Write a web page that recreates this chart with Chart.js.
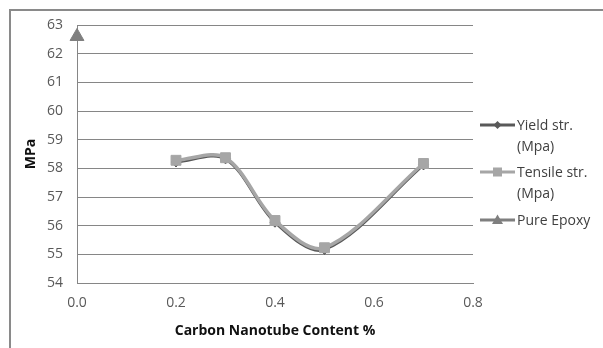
<!DOCTYPE html>
<html>
<head>
<meta charset="utf-8">
<script src="https://cdn.jsdelivr.net/npm/chart.js@4.4.1/dist/chart.umd.min.js"></script>
<style>
  html, body { margin: 0; padding: 0; background: #ffffff; overflow: hidden; }
  #wrap { position: relative; width: 603px; height: 348px; }
  #frame { position: absolute; left: 9px; top: 9px; width: 640px; height: 400px;
           border-left: 2px solid #8a8a8a; border-top: 2px solid #8a8a8a; box-sizing: border-box; }
  canvas { position: absolute; left: 0; top: 0; }
  #legend { position: absolute; left: 480px; top: 114px; font-family: "Open Sans", sans-serif;
            font-size: 14px; color: #404040; }
  .item { position: absolute; left: 0; white-space: nowrap; line-height: 21px; }
  .item svg { position: absolute; left: 0; top: 4px; }
  .item .txt { position: absolute; left: 37px; top: 0; }
</style>
</head>
<body>
<div id="wrap">
  <div id="frame"></div>
  <canvas id="c" width="603" height="348"></canvas>
  <div id="legend"></div>
</div>
<script>
// ---- data ----
const cntContent   = [0.2, 0.3, 0.4, 0.5, 0.7];
const yieldStr     = [58.22, 58.33, 56.12, 55.17, 58.12];
const tensileStr   = [58.28, 58.37, 56.18, 55.23, 58.17];
const pureEpoxyX   = [0.0];
const pureEpoxyY   = [62.6];
const seriesNames  = ['Yield str. (Mpa)', 'Tensile str. (Mpa)', 'Pure Epoxy'];
const legendLines  = [['Yield str.', '(Mpa)'], ['Tensile str.', '(Mpa)'], ['Pure Epoxy']];
const xTickLabels  = ['0.0', '0.2', '0.4', '0.6', '0.8'];
const yTickLabels  = ['54', '55', '56', '57', '58', '59', '60', '61', '62', '63'];
const xTitle = 'Carbon Nanotube Content %';
const yTitle = 'MPa';

const colors = ['#595959', '#a6a6a6', '#7f7f7f'];

const pts = (xs, ys) => xs.map((x, i) => ({ x: x, y: ys[i] }));

const chart = new Chart(document.getElementById('c'), {
  type: 'scatter',
  data: {
    datasets: [
      { label: seriesNames[0], data: pts(cntContent, yieldStr), showLine: true, tension: 0.33,
        borderColor: colors[0], backgroundColor: colors[0], borderWidth: 3,
        pointStyle: 'rectRot', pointRadius: 5, pointBorderWidth: 1, order: 2 },
      { label: seriesNames[1], data: pts(cntContent, tensileStr), showLine: true, tension: 0.33,
        borderColor: colors[1], backgroundColor: colors[1], borderWidth: 3.5,
        pointStyle: 'rect', pointRadius: 7, pointBorderWidth: 1, order: 1 },
      { label: seriesNames[2], data: pts(pureEpoxyX, pureEpoxyY), showLine: false,
        borderColor: colors[2], backgroundColor: colors[2],
        pointStyle: 'triangle', pointRadius: 8, pointBorderWidth: 1, order: 0 }
    ]
  },
  options: {
    responsive: false,
    animation: false,
    clip: false,
    layout: { padding: { left: 0, top: 25, right: 130, bottom: 0 } },
    plugins: { legend: { display: false }, tooltip: { enabled: false } },
    scales: {
      x: {
        type: 'linear', min: 0, max: 0.8,
        afterFit: s => { s.height = 65; },
        afterBuildTicks: s => { s.ticks = xTickLabels.map(t => ({ value: parseFloat(t) })); },
        ticks: { callback: (v, i) => xTickLabels[i], padding: 12, color: '#595959',
                 font: { family: 'Open Sans', size: 14 }, maxRotation: 0 },
        grid: { display: false, drawTicks: false },
        border: { display: true, color: '#868686', width: 1 },
        title: { display: true, text: xTitle, color: '#111111',
                 font: { family: 'Open Sans', size: 14, weight: 'bold' }, padding: { top: 0, bottom: 9 } }
      },
      y: {
        type: 'linear', min: 54, max: 63,
        afterFit: s => { s.width = 77; },
        afterBuildTicks: s => { s.ticks = yTickLabels.map(t => ({ value: parseFloat(t) })); },
        ticks: { callback: (v, i) => yTickLabels[i], padding: 14, color: '#595959',
                 font: { family: 'Open Sans', size: 14 } },
        grid: { color: '#868686', lineWidth: 1, drawTicks: false },
        border: { display: true, color: '#868686', width: 1 },
        title: { display: true, text: yTitle, color: '#111111',
                 font: { family: 'Open Sans', size: 14, weight: 'bold' }, padding: { top: 23, bottom: 0 } }
      }
    }
  }
});

// ---- HTML legend ----
const legendTops = [0, 47, 95];
const symbols = [
  '<svg width="36" height="14"><line x1="0" y1="7" x2="35" y2="7" stroke="#595959" stroke-width="3"/><polygon points="17.5,3 21.5,7 17.5,11 13.5,7" fill="#595959"/></svg>',
  '<svg width="36" height="14"><line x1="0" y1="7" x2="35" y2="7" stroke="#a6a6a6" stroke-width="3"/><rect x="13" y="2.5" width="9" height="9" fill="#a6a6a6"/></svg>',
  '<svg width="36" height="14"><line x1="0" y1="7" x2="35" y2="7" stroke="#7f7f7f" stroke-width="3"/><polygon points="17.5,1.5 23,11 12,11" fill="#7f7f7f"/></svg>'
];
const lg = document.getElementById('legend');
legendLines.forEach((lines, i) => {
  const d = document.createElement('div');
  d.className = 'item';
  d.style.top = legendTops[i] + 'px';
  d.innerHTML = symbols[i] + '<span class="txt">' + lines.join('<br>') + '</span>';
  lg.appendChild(d);
});
</script>
</body>
</html>
